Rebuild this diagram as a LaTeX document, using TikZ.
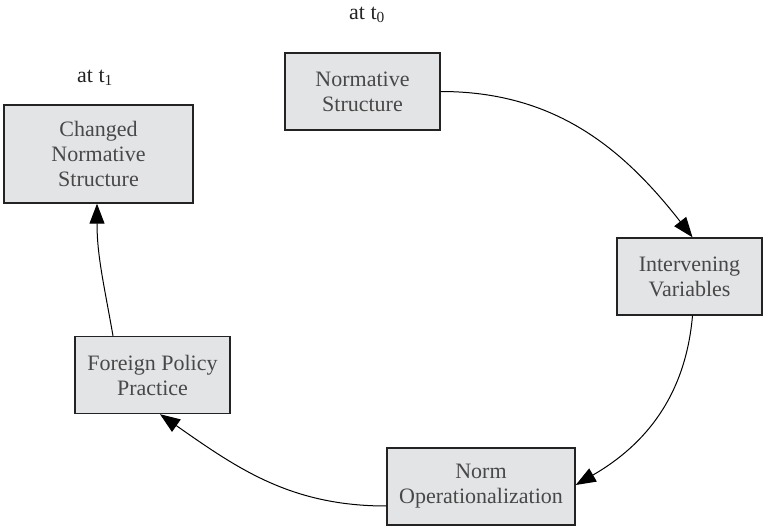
\documentclass[tikz,border=0pt]{standalone}
\usepackage{fontspec}
\setmainfont{Liberation Serif}
\usetikzlibrary{arrows.meta}
\definecolor{boxgray}{RGB}{227,228,230}
\definecolor{textgray}{RGB}{72,72,72}
\definecolor{edgegray}{RGB}{35,35,35}
\begin{document}
\begin{tikzpicture}[x=1pt,y=1pt,
  box/.style={draw=edgegray, line width=1.4pt, fill=boxgray, text=textgray, align=center,
    font=\fontsize{22}{25}\selectfont, inner sep=0pt},
  lbl/.style={font=\fontsize{22}{25}\selectfont, text=edgegray, inner sep=0pt},
  conn/.style={draw=black, line width=1pt, -{Triangle[length=20pt,width=15pt]}}]
\useasboundingbox (0,0) rectangle (766,-526);
\node[lbl] (t0) at (367,-15) {at t\textsubscript{0}};
\node[box, minimum width=155pt, minimum height=77pt] (ns) at (362.5,-91.5) {Normative\\Structure};
\node[lbl] (t1) at (95,-78) {at t\textsubscript{1}};
\node[box, minimum width=189pt, minimum height=98pt] (cns) at (98.5,-154) {Changed\\Normative\\Structure};
\node[box, minimum width=145pt, minimum height=77pt] (iv) at (689.5,-276.5) {Intervening\\Variables};
\node[box, minimum width=155pt, minimum height=77pt] (fp) at (152.5,-375) {Foreign Policy\\Practice};
\node[box, minimum width=188pt, minimum height=77pt] (no) at (481,-486.5) {Norm\\Operationalization};
\draw[conn] (ns.east) to[out=0,in=128] ([xshift=3pt]iv.north);
\draw[conn] ([xshift=3pt]iv.south) to[out=-95,in=30] ([yshift=1.5pt]no.east);
\draw[conn] ([yshift=-19.5pt]no.west) to[out=180,in=-35] ([xshift=7.5pt]fp.south);
\draw[conn] ([xshift=-39.5pt]fp.north) to[out=100,in=-90] ([xshift=-1.5pt]cns.south);
\end{tikzpicture}
\end{document}
